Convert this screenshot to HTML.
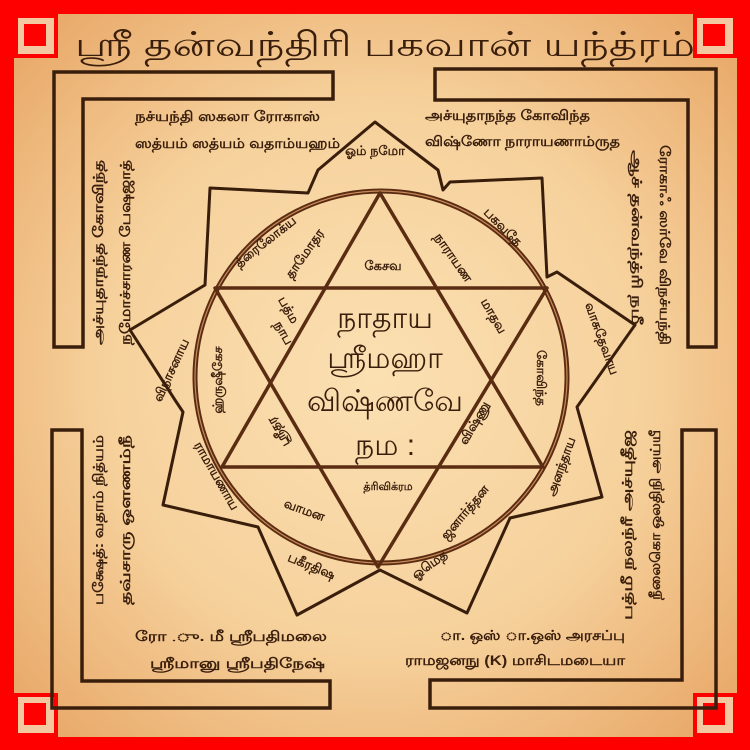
<!DOCTYPE html>
<html><head><meta charset="utf-8"><style>
html,body{margin:0;padding:0;}
body{width:750px;height:750px;overflow:hidden;background:#ff0000;}
svg{display:block;}
text{font-family:"Liberation Sans","Noto Sans CJK SC",sans-serif;fill:#3a1e0c;}
.b{font-weight:bold;}
</style></head><body>
<svg width="750" height="750" viewBox="0 0 750 750" xmlns="http://www.w3.org/2000/svg">
<defs>
<radialGradient id="bg" cx="50%" cy="50%" r="68%">
<stop offset="0" stop-color="#fbe0b2"/>
<stop offset="0.55" stop-color="#f6d19c"/>
<stop offset="1" stop-color="#e8a868"/>
</radialGradient>
</defs>
<rect x="0" y="0" width="750" height="750" fill="#ff0000"/>
<rect x="14" y="14" width="723" height="723" fill="url(#bg)"/>
<g>
<rect x="14" y="14" width="44" height="44" fill="#ff0000"/><rect x="18" y="18" width="36" height="36" fill="#f3c8a0"/><rect x="24" y="24" width="22" height="22" fill="#ff0000"/>
<rect x="693" y="14" width="44" height="44" fill="#ff0000"/><rect x="697" y="18" width="36" height="36" fill="#f3c8a0"/><rect x="703" y="24" width="22" height="22" fill="#ff0000"/>
<rect x="14" y="693" width="44" height="44" fill="#ff0000"/><rect x="18" y="697" width="36" height="36" fill="#f3c8a0"/><rect x="24" y="703" width="22" height="22" fill="#ff0000"/>
<rect x="693" y="693" width="44" height="44" fill="#ff0000"/><rect x="697" y="697" width="36" height="36" fill="#f3c8a0"/><rect x="703" y="703" width="22" height="22" fill="#ff0000"/>
</g>
<text x="385" y="56" font-size="34" text-anchor="middle" textLength="620" lengthAdjust="spacingAndGlyphs">ஸ்ரீ தன்வந்திரி பகவான் யந்த்ரம்</text>
<g fill="none" stroke="#3a1e0c" stroke-width="3.5" stroke-linejoin="miter">
<path d="M54 72 L333 72 L333 99 L83 99 L83 347 L54 347 Z"/>
<path d="M435 69 L716 69 L716 347 L688 347 L688 100 L435 100 Z"/>
<path d="M52 430 L82 430 L82 681 L330 681 L330 708 L52 708 Z"/>
<path d="M682 430 L716 430 L716 708 L430 708 L430 680 L682 680 Z"/>
</g>
<g class="b" font-size="14">
<text x="135" y="121" textLength="185" lengthAdjust="spacingAndGlyphs">நச்யந்தி ஸகலா ரோகாஸ்</text>
<text x="135" y="148" textLength="205" lengthAdjust="spacingAndGlyphs">ஸத்யம் ஸத்யம் வதாம்யஹம்</text>
<text x="425" y="120" textLength="165" lengthAdjust="spacingAndGlyphs">அச்யுதாநந்த கோவிந்த</text>
<text x="425" y="146" textLength="195" lengthAdjust="spacingAndGlyphs">விஷ்ணோ நாராயணாம்ருத</text>
<text x="135" y="641" textLength="192" lengthAdjust="spacingAndGlyphs">ரோ .ு. மீ ஸ்ரீபதிமலை</text>
<text x="150" y="668" textLength="175" lengthAdjust="spacingAndGlyphs">ஸ்ரீமானு ஸ்ரீபதிநேஷ்</text>
<text x="440" y="640" textLength="185" lengthAdjust="spacingAndGlyphs">ா. ஒஸ் ா.ஒஸ் அரசப்பு</text>
<text x="405" y="665" textLength="220" lengthAdjust="spacingAndGlyphs">ராமஜனநு (K) மாசிடமடையா</text>
<text transform="translate(103,345) rotate(-90)" textLength="185" lengthAdjust="spacingAndGlyphs">அச்யுதாநந்த கோவிந்த</text>
<text transform="translate(130,345) rotate(-90)" textLength="185" lengthAdjust="spacingAndGlyphs">நமோச்சாரண பேஷஜாத்</text>
<text transform="translate(103,605) rotate(-90)" textLength="170" lengthAdjust="spacingAndGlyphs">பக்ஷேத்: வதாம் நித்யம்</text>
<text transform="translate(130,605) rotate(-90)" textLength="170" lengthAdjust="spacingAndGlyphs">தவ்சாரு ஒளணம்நீ</text>
<text transform="translate(660,145) rotate(90)" textLength="200" lengthAdjust="spacingAndGlyphs">ரோகாஃ ஸர்வே விநச்யந்தி</text>
<text transform="translate(632,150) rotate(90)" textLength="175" lengthAdjust="spacingAndGlyphs">ஆச் தன்வந்த்ரி நமீ</text>
<text transform="translate(632,620) rotate(-90)" textLength="190" lengthAdjust="spacingAndGlyphs">பத்மீ நலந்ரீ அச்யுதீஜ</text>
<text transform="translate(660,600) rotate(-90)" textLength="170" lengthAdjust="spacingAndGlyphs">நீலைகொ ஒலதிநி அய்யீ</text>
</g>
<g fill="none" stroke="#3a1e0c" stroke-width="3" stroke-linejoin="round">
<path d="M308 193 L318 170 L375 122 L438 170 L443 190 L450 182 L542 178 L547 277 L557 272 L635 325 L577 407 L602 497 L510 518 L467 613 L380 570 L297 615 L258 527 L163 505 L183 412 L175 400 L130 330 L205 285 L210 188 Z"/>
</g>
<circle cx="381" cy="377" r="186" fill="none" stroke="#5a2c12" stroke-width="5"/>
<circle cx="381" cy="377" r="186" fill="none" stroke="#c98a5a" stroke-width="1.2"/>
<g fill="none" stroke="#5a2c12" stroke-width="3.5" stroke-linejoin="round">
<path d="M380 193 L543 467 L222 467 Z"/>
<path d="M215 288 L547 288 L378 567 Z"/>
</g>
<g font-size="30" text-anchor="middle">
<text x="385" y="328">நாதாய</text>
<text x="385" y="368">ஸ்ரீமஹா</text>
<text x="385" y="411">விஷ்ணவே</text>
<text x="385" y="455">நம :</text>
</g>
<g class="b" font-size="13" text-anchor="middle">
<text x="383" y="270">கேசவ</text>
<text x="375" y="155">ஓம் நமோ</text>
<text transform="translate(268,245) rotate(-38)">த்ரைலோக்ய</text>
<text transform="translate(308,256) rotate(-55)">தாமோதர</text>
<text transform="translate(500,230) rotate(45)">பகவதே</text>
<text transform="translate(450,260) rotate(55)">நாராயண</text>
<text transform="translate(285,312) rotate(60)">பத்ம</text>
<text transform="translate(280,335) rotate(60)">நாப</text>
<text transform="translate(490,318) rotate(60)">மாதவ</text>
<text transform="translate(537,378) rotate(90)">கோவிந்த</text>
<text transform="translate(598,340) rotate(70)">வாசுதேவாய</text>
<text transform="translate(222,380) rotate(-90)">ஹ்ருஷீகேச</text>
<text transform="translate(175,372) rotate(-65)">விநாசனாய</text>
<text transform="translate(282,430) rotate(-120)">ஸ்ரீதர</text>
<text transform="translate(478,425) rotate(-60)">விஷ்ணு</text>
<text transform="translate(565,468) rotate(-70)">அனந்தாய</text>
<text x="388" y="490" font-size="11">த்ரிவிக்ரம</text>
<text transform="translate(303,514) rotate(20)">வாமன</text>
<text transform="translate(468,515) rotate(-50)">ஜனார்த்தன</text>
<text transform="translate(213,478) rotate(60)">ராமாயணாய</text>
<text transform="translate(310,570) rotate(22)">பகீரதிஷ</text>
<text transform="translate(432,568) rotate(-35)">ஓமெத</text>
</g>
</svg>
</body></html>
